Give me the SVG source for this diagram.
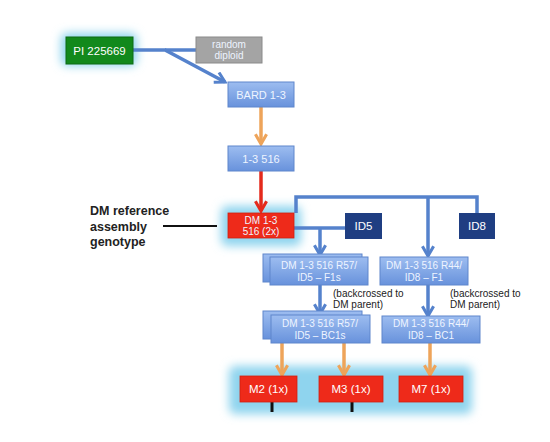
<svg xmlns="http://www.w3.org/2000/svg" width="550" height="442" viewBox="0 0 550 442">
<defs>
<linearGradient id="bg" x1="0" y1="0" x2="0" y2="1">
<stop offset="0" stop-color="#9dbdf0"/>
<stop offset="1" stop-color="#6892dc"/>
</linearGradient>
<filter id="glow" x="-30%" y="-60%" width="160%" height="220%">
<feGaussianBlur stdDeviation="5"/>
</filter>
<marker id="ab" viewBox="0 0 10 10" refX="8" refY="5" markerWidth="4" markerHeight="4" orient="auto" markerUnits="strokeWidth">
<path d="M1,1 L8,5 L1,9" fill="none" stroke="#5582cc" stroke-width="2.2"/>
</marker>
<marker id="ao" viewBox="0 0 10 10" refX="8" refY="5" markerWidth="4" markerHeight="4" orient="auto" markerUnits="strokeWidth">
<path d="M1,1 L8,5 L1,9" fill="none" stroke="#eea45a" stroke-width="2.2"/>
</marker>
<marker id="ar" viewBox="0 0 10 10" refX="8" refY="5" markerWidth="4" markerHeight="4" orient="auto" markerUnits="strokeWidth">
<path d="M1,1 L8,5 L1,9" fill="none" stroke="#e42a1c" stroke-width="2.2"/>
</marker>
</defs>
<style>
.t{font-family:"Liberation Sans",Arial,sans-serif;font-size:10px;fill:#eef4ff;text-anchor:middle}
.ts{font-family:"Liberation Sans",Arial,sans-serif;font-size:11px;fill:#eef4ff;text-anchor:middle}
.tw{font-family:"Liberation Sans",Arial,sans-serif;font-size:11.5px;fill:#ffffff;text-anchor:middle}
.tk{font-family:"Liberation Sans",Arial,sans-serif;font-size:10px;fill:#222;}
.blue{fill:url(#bg);stroke:#5f86cc;stroke-width:1}
.red{fill:#ee2a1a;stroke:#d02010;stroke-width:0.8}
.dark{fill:#1f3e82}
.cb{fill:none;stroke:#5582cc;stroke-width:3.5}
.co{fill:none;stroke:#eea45a;stroke-width:3.5}
.cr{fill:none;stroke:#e42a1c;stroke-width:3.5}
.glw{fill:#8fd4ee;filter:url(#glow)}
</style>
<rect width="550" height="442" fill="#ffffff"/>
<g id="glows">
<rect class="glw" x="61" y="33" width="76" height="33" rx="6"/>
<rect class="glw" x="221" y="206" width="80" height="40" rx="6"/>
<rect class="glw" x="229" y="366" width="243" height="48" rx="6"/>
</g>
<g id="connectors">
<path class="cb" d="M133,50 L165,50 L225,82" marker-end="url(#ab)"/>
<path class="cb" d="M197,50 L165,50"/>
<path class="co" d="M261,107 L261,144" marker-end="url(#ao)"/>
<path class="cr" d="M261,171 L261,211" marker-end="url(#ar)"/>
<path class="cb" d="M296,213 L296,197 L477,197 L477,213"/>
<path class="cb" d="M428,197 L428,256" marker-end="url(#ab)"/>
<path class="cb" d="M294,228 L345,228"/>
<path class="cb" d="M320,228 L320,255" marker-end="url(#ab)"/>
<path class="cb" d="M320,285 L320,314" marker-end="url(#ab)"/>
<path class="cb" d="M428,285 L428,316" marker-end="url(#ab)"/>
<path class="co" d="M282,343 L282,375" marker-end="url(#ao)"/>
<path class="co" d="M344,343 L344,375" marker-end="url(#ao)"/>
<path class="co" d="M430,342 L430,375" marker-end="url(#ao)"/>
<path d="M163,226 L217,226" stroke="#111" stroke-width="2" fill="none"/>
<path d="M272,402 L272,412 M352,402 L352,412" stroke="#111" stroke-width="3" fill="none"/>
</g>
<g id="pi">
<rect x="66" y="37" width="67" height="27" fill="#12891c" stroke="#0c6a14" stroke-width="1"/>
<text class="tw" x="99.5" y="54.5">PI 225669</text>
</g>
<g id="random">
<rect x="196" y="37" width="66" height="26" fill="#a4a4a4" stroke="#8a8a8a" stroke-width="1"/>
<text class="t" x="229" y="48">random</text>
<text class="t" x="229" y="59">diploid</text>
</g>
<g id="bard">
<rect class="blue" x="228" y="82" width="66" height="25"/>
<text class="ts" x="261" y="98.5">BARD 1-3</text>
</g>
<g id="s516">
<rect class="blue" x="228" y="146" width="66" height="25"/>
<text class="ts" x="261" y="162.5">1-3 516</text>
</g>
<g id="dm">
<rect class="red" x="228" y="213" width="66" height="25"/>
<text class="t" x="261" y="224">DM 1-3</text>
<text class="t" x="261" y="235">516 (2x)</text>
</g>
<g id="label">
<text class="tk" style="font-size:12.5px;font-weight:bold" x="90" y="215">DM reference</text>
<text class="tk" style="font-size:12.5px;font-weight:bold" x="90" y="231">assembly</text>
<text class="tk" style="font-size:12.5px;font-weight:bold" x="90" y="246">genotype</text>
</g>
<g id="id5">
<rect class="dark" x="345" y="213" width="37" height="26"/>
<text class="tw" x="363.5" y="230">ID5</text>
</g>
<g id="id8">
<rect class="dark" x="459" y="213" width="36" height="26"/>
<text class="tw" x="477" y="230">ID8</text>
</g>
<g id="f1s">
<rect class="blue" x="263" y="254" width="99" height="28"/>
<rect class="blue" x="270" y="257" width="98" height="28"/>
<text class="t" x="319" y="269">DM 1-3 516 R57/</text>
<text class="t" x="319" y="280.5">ID5 – F1s</text>
</g>
<g id="f1">
<rect class="blue" x="380" y="257" width="88" height="28"/>
<text class="t" x="424" y="269">DM 1-3 516 R44/</text>
<text class="t" x="424" y="280.5">ID8 – F1</text>
</g>
<g id="bc-notes">
<text class="tk" x="333" y="297">(backcrossed to</text>
<text class="tk" x="333" y="308">DM parent)</text>
<text class="tk" x="450" y="297">(backcrossed to</text>
<text class="tk" x="450" y="308">DM parent)</text>
</g>
<g id="bc1s">
<rect class="blue" x="263" y="311" width="99" height="28"/>
<rect class="blue" x="271" y="315" width="99" height="28"/>
<text class="t" x="320" y="327">DM 1-3 516 R57/</text>
<text class="t" x="320" y="338.5">ID5 – BC1s</text>
</g>
<g id="bc1">
<rect class="blue" x="382" y="316" width="98" height="27"/>
<text class="t" x="431" y="327">DM 1-3 516 R44/</text>
<text class="t" x="431" y="338.5">ID8 – BC1</text>
</g>
<g id="m2">
<rect class="red" x="240" y="376" width="57" height="26"/>
<text class="tw" x="268.5" y="393">M2 (1x)</text>
</g>
<g id="m3">
<rect class="red" x="319" y="376" width="64" height="26"/>
<text class="tw" x="351" y="393">M3 (1x)</text>
</g>
<g id="m7">
<rect class="red" x="399" y="376" width="64" height="26"/>
<text class="tw" x="431" y="393">M7 (1x)</text>
</g>
</svg>
